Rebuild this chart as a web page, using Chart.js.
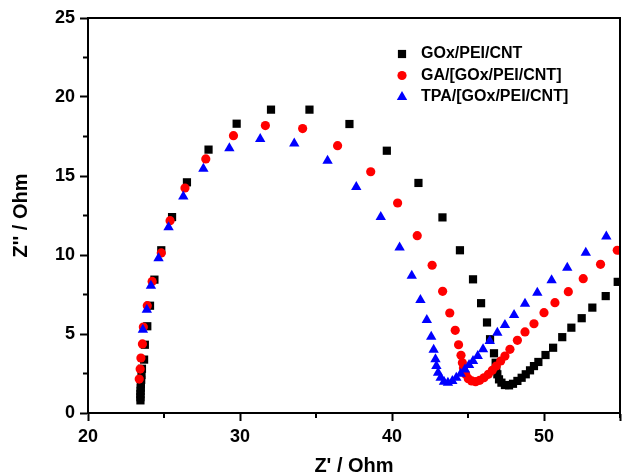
<!DOCTYPE html>
<html>
<head>
<meta charset="utf-8">
<script src="https://cdn.jsdelivr.net/npm/chart.js@4.4.1/dist/chart.umd.min.js"></script>
<style>
  html, body { margin: 0; padding: 0; background: #fff; }
  #wrap { width: 628px; height: 476px; }
</style>
</head>
<body>
<div id="wrap"><canvas id="nyquist"></canvas></div>
<script>
// Z' (x) and Z'' (y), in Ohm
const seriesNames = ["GOx/PEI/CNT", "GA/[GOx/PEI/CNT]", "TPA/[GOx/PEI/CNT]"];

const goxX = [23.45, 23.45, 23.45, 23.46, 23.47, 23.48, 23.5, 23.52, 23.55, 23.69, 23.74, 23.9, 24.08, 24.37,
  24.82, 25.53, 26.51, 27.93, 29.78, 32.04, 34.57, 37.2, 39.66, 41.74, 43.32, 44.47, 45.33, 45.86, 46.25,
  46.45, 46.71, 46.82, 46.86, 46.93, 47.04, 47.2, 47.43, 47.7, 47.96, 48.25, 48.53, 48.8, 49.08, 49.34,
  49.63, 50.1, 50.6, 51.2, 51.8, 52.48, 53.18, 54.06, 54.85];
const goxY = [0.8, 1.0, 1.2, 1.4, 1.6, 1.85, 2.1, 2.4, 2.8, 3.38, 4.32, 5.49, 6.79, 8.44,
  10.3, 12.4, 14.6, 16.67, 18.31, 19.2, 19.2, 18.29, 16.6, 14.56, 12.38, 10.3, 8.46, 6.95, 5.73,
  4.67, 3.78, 3.18, 2.76, 2.45, 2.13, 1.92, 1.77, 1.75, 1.85, 2.03, 2.23, 2.45, 2.7, 2.97,
  3.23, 3.67, 4.13, 4.8, 5.4, 6.0, 6.67, 7.4, 8.3];

const gaX = [23.37, 23.43, 23.48, 23.58, 23.64, 23.9, 24.22, 24.82, 25.4, 26.38, 27.75, 29.57, 31.67,
  34.12, 36.42, 38.6, 40.37, 41.66, 42.64, 43.33, 43.8, 44.16, 44.38, 44.54, 44.63, 44.7, 44.85, 45.02,
  45.24, 45.5, 45.77, 46.05, 46.34, 46.6, 46.86, 47.15, 47.43, 47.76, 48.25, 48.75, 49.34, 50.0, 50.72,
  51.6, 52.58, 53.72, 54.82];
const gaY = [2.15, 2.78, 3.48, 4.37, 5.44, 6.79, 8.33, 10.13, 12.17, 14.24, 16.08, 17.55, 18.19,
  18.0, 16.92, 15.27, 13.29, 11.22, 9.35, 7.7, 6.33, 5.23, 4.32, 3.65, 3.18, 2.85, 2.45, 2.17,
  2.03, 1.98, 2.07, 2.23, 2.45, 2.7, 2.97, 3.29, 3.6, 4.03, 4.6, 5.13, 5.65, 6.35, 6.98,
  7.68, 8.5, 9.41, 10.3];

const tpaX = [23.61, 23.87, 24.14, 24.64, 25.3, 26.27, 27.59, 29.3, 31.33, 33.57, 35.76, 37.65, 39.26,
  40.5, 41.3, 41.87, 42.29, 42.58, 42.74, 42.86, 42.92, 43.03, 43.2, 43.42, 43.68, 43.97, 44.23, 44.52,
  44.8, 45.07, 45.33, 45.64, 45.99, 46.43, 46.93, 47.43, 48.03, 48.75, 49.56, 50.5, 51.53, 52.75, 54.1];
const tpaY = [5.27, 6.54, 8.06, 9.79, 11.75, 13.71, 15.46, 16.75, 17.34, 17.05, 15.97, 14.3, 12.4,
  10.47, 8.69, 7.15, 5.88, 4.83, 4.0, 3.4, 2.97, 2.55, 2.23, 1.98, 1.92, 2.03, 2.23, 2.49,
  2.76, 3.04, 3.29, 3.6, 4.03, 4.56, 5.08, 5.57, 6.2, 6.92, 7.61, 8.4, 9.2, 10.15, 11.17];

const xMinorTicks = [25, 35, 45, 55];
const yMinorTicks = [2.5, 7.5, 12.5, 17.5, 22.5];

function toPoints(xs, ys) {
  return xs.map((x, i) => ({ x: x, y: ys[i] }));
}

Chart.defaults.font.family = "'Liberation Sans', Arial, sans-serif";
Chart.defaults.font.weight = "bold";
Chart.defaults.color = "#000";

// frame on top/right + short minor ticks
const framePlugin = {
  id: "frame",
  afterDraw(chart) {
    const { ctx, chartArea: a } = chart;
    const xs = chart.scales.x, ys = chart.scales.y;
    ctx.save();
    ctx.strokeStyle = "#000";
    ctx.lineWidth = 2;
    ctx.beginPath();
    ctx.moveTo(a.left, a.top);
    ctx.lineTo(a.right, a.top);
    ctx.lineTo(a.right, a.bottom);
    xMinorTicks.forEach(v => {
      const px = xs.getPixelForValue(v);
      ctx.moveTo(px, a.bottom);
      ctx.lineTo(px, a.bottom + 5);
    });
    yMinorTicks.forEach(v => {
      const py = ys.getPixelForValue(v);
      ctx.moveTo(a.left, py);
      ctx.lineTo(a.left - 5, py);
    });
    ctx.stroke();
    ctx.restore();
  }
};

// legend in the upper right corner of the plot
const legendPlugin = {
  id: "cornerLegend",
  afterDraw(chart) {
    const ctx = chart.ctx;
    ctx.save();
    ctx.font = "bold 16px 'Liberation Sans', Arial, sans-serif";
    ctx.textBaseline = "middle";
    ctx.textAlign = "left";
    chart.data.datasets.forEach((ds, i) => {
      const y = 54 + i * 21.5;
      ctx.fillStyle = ds.backgroundColor;
      Chart.helpers.drawPoint(ctx, {
        pointStyle: ds.pointStyle,
        radius: ds.pointRadius,
        borderWidth: 0,
        rotation: 0
      }, 402, y);
      ctx.fillStyle = "#000";
      ctx.fillText(ds.label, 421, y);
    });
    ctx.restore();
  }
};

new Chart(document.getElementById("nyquist"), {
  type: "scatter",
  data: {
    datasets: [
      { label: seriesNames[0], data: toPoints(goxX, goxY), pointStyle: "rect", pointRadius: 5.8,
        backgroundColor: "#000000", borderColor: "#000000", pointBorderWidth: 0, order: 3, clip: 0 },
      { label: seriesNames[1], data: toPoints(gaX, gaY), pointStyle: "circle", pointRadius: 4.6,
        backgroundColor: "#ff0000", borderColor: "#ff0000", pointBorderWidth: 0, order: 2, clip: 0 },
      { label: seriesNames[2], data: toPoints(tpaX, tpaY), pointStyle: "triangle", pointRadius: 6,
        backgroundColor: "#0000ff", borderColor: "#0000ff", pointBorderWidth: 0, order: 1, clip: 0 }
    ]
  },
  options: {
    responsive: true,
    maintainAspectRatio: false,
    animation: false,
    layout: { padding: { top: 18, right: 8, left: 0, bottom: 0 } },
    plugins: { legend: { display: false }, tooltip: { enabled: false } },
    elements: { point: { hoverRadius: 6 } },
    scales: {
      x: {
        type: "linear",
        min: 20,
        max: 55,
        afterFit: s => { s.height = 63; },
        ticks: { stepSize: 10, padding: 5, font: { size: 18, weight: "bold" }, color: "#000",
          callback: v => (v % 10 === 0 ? v : "") },
        grid: { drawOnChartArea: false, drawTicks: true, tickLength: 8, tickWidth: 2, tickColor: "#000" },
        border: { display: true, color: "#000", width: 2 },
        title: { display: true, text: "Z' / Ohm", font: { size: 20, weight: "bold", lineHeight: 1 },
          padding: { top: 0, bottom: 0 }, color: "#000" }
      },
      y: {
        type: "linear",
        min: 0,
        max: 25,
        afterFit: s => { s.width = 88; },
        ticks: { stepSize: 5, padding: 5, font: { size: 18, weight: "bold" }, color: "#000" },
        grid: { drawOnChartArea: false, drawTicks: true, tickLength: 8, tickWidth: 2, tickColor: "#000" },
        border: { display: true, color: "#000", width: 2 },
        title: { display: true, text: "Z'' / Ohm", font: { size: 20, weight: "bold", lineHeight: 1 },
          padding: { top: 11, bottom: 0 }, color: "#000" }
      }
    }
  },
  plugins: [framePlugin, legendPlugin]
});
</script>
</body>
</html>
